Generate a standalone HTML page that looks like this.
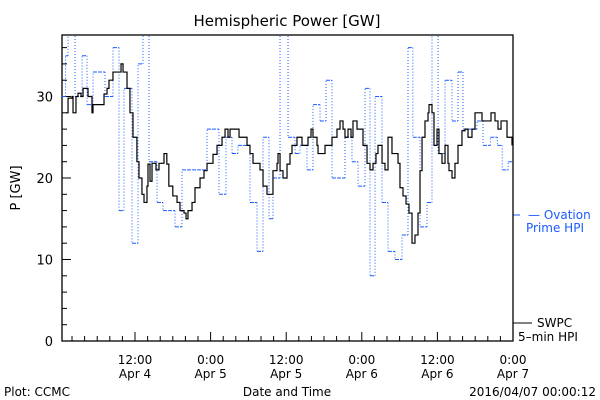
<!DOCTYPE html>
<html><head><meta charset="utf-8"><style>
body{margin:0;background:#fff;}
svg{display:block;font-family:"DejaVu Sans","Liberation Sans",sans-serif;}
</style></head><body>
<svg id="chart" width="600" height="400" viewBox="0 0 600 400" xmlns="http://www.w3.org/2000/svg">
<rect width="600" height="400" fill="#fff"/>
<text x="287" y="26" text-anchor="middle" font-size="15">Hemispheric Power [GW]</text>
<text transform="translate(20,188) rotate(-90)" text-anchor="middle" font-size="13">P [GW]</text>
<text x="287" y="396" text-anchor="middle" font-size="12">Date and Time</text>
<text x="4" y="396" font-size="12">Plot: CCMC</text>
<text x="596" y="396" text-anchor="end" font-size="12">2016/04/07 00:00:12</text>
<g>
<line x1="513" y1="215" x2="520" y2="215" stroke="#1a5cff" stroke-width="1"/>
<text x="528" y="219" font-size="12" fill="#1a5cff">— Ovation</text>
<text x="526" y="232" font-size="12" fill="#1a5cff">Prime HPI</text>
</g>
<g>
<line x1="513" y1="323" x2="532" y2="323" stroke="#000" stroke-width="1"/>
<text x="537" y="327" font-size="12">SWPC</text>
<text x="518" y="341" font-size="12">5–min HPI</text>
</g>
<defs><clipPath id="clip"><rect x="62" y="35" width="451" height="306"/></clipPath></defs>
<g id="axes"></g>
<g id="series" clip-path="url(#clip)"></g>
</svg>
<script>
const yTicks=[0,10,20,30];
const xTickHours=[12,24,36,48,60,72];
const xTickLine1=["12:00","0:00","12:00","0:00","12:00","0:00"];
const xTickLine2=["Apr 4","Apr 5","Apr 5","Apr 6","Apr 6","Apr 7"];
const blueT=[0.41,0.98,1.37,2.48,3.59,4.38,5.33,7.24,8.5,9.46,10.25,11.52,12.48,13.27,14.22,15.49,16.44,18.35,19.46,23.43,25.33,26.44,27.4,28.35,30.25,31.37,32.32,33.27,33.9,35.02,36.29,37.4,38.19,39.3,40.25,41.37,42.32,43.27,45.33,46.44,47.4,48.51,49.3,50.1,51.21,52.16,53.27,54.38,55.33,56.1,57.24,58.35,59.14,60.1,61.21,62.32,63.27,64.06,66.29,67.24,68.41,69.52,70.29,71.24,72];
const blueV=[30,35,40,30,35,29,33,30,36,16,31,12,34,40,22,17,16,14,21,26,18,25,23,24,17,11,25,15,20,40,25,23,24,21,29,27,32,20,25,22,19,31,8,30,17,11,10,13,36,25,14,17,40,23,32,27,33,26,27,24,25,24,21,22,22];
const blackT=[1.05,1.37,2.0,2.16,2.63,2.95,3.43,3.75,4.22,4.54,5.17,5.33,6.76,7.08,7.56,7.87,8.5,9.62,9.78,10.1,10.73,11.2,11.68,12.3,12.63,13.1,13.43,13.9,14.06,14.38,14.7,15.02,15.33,15.81,16.6,17.05,17.37,18.0,18.67,19.14,19.78,20.1,20.41,21.05,21.52,22.32,22.95,23.43,24.38,25.02,25.81,26.29,26.76,27.08,28.19,28.51,29.46,29.78,30.25,30.73,31.84,32.32,32.95,33.43,33.9,34.54,34.7,35.02,35.49,36.13,36.6,36.92,37.71,37.87,38.51,39.46,39.62,39.94,40.25,40.89,41.05,42.16,42.63,43.27,44.06,44.54,45.02,45.33,45.81,46.29,46.6,47.24,47.71,48.19,48.83,49.3,49.78,50.25,50.57,51.21,51.68,52.16,52.79,53.27,53.75,54.06,54.54,55.02,55.49,55.97,56.44,56.92,57.24,57.56,58.03,58.51,58.67,59.14,59.46,59.94,60.25,60.73,61.21,61.68,61.84,62.32,62.79,63.27,63.9,64.38,64.86,65.49,65.97,66.29,67.08,67.56,68.03,68.51,69.14,69.62,70.1,71.05,71.68,71.84];
const blackV=[28,29.8,30,28,30,30.4,30,31,31,30,28,29,29,30.3,31,32,33,33,34,33,31,28,25,22,20,18,17,19,21.7,19.6,21.8,21.8,21,21.8,23,21.7,19,17.8,17,16,15.7,15,16,17,18.8,20,20.9,21.8,22.9,24,25,26,25,26,26,25,25,24,23,21.8,21,19,18,18,20.9,21.8,23,20.9,20,21.7,23,24,25,25,24,25,25,26,25,24,23,24,24,25,26,27,26,25,26,25,27,26,26,24,21.8,21,21.8,23,24,21.8,21,25,23,23,21.8,18.8,17.8,16.8,15.7,12,13,15.7,20.9,25,27,28,29,28,24,26,23,21.8,24,21.8,20.9,20,21.8,24,25.8,26,25,26,28,28,27,27,27,28,27,26,27,25,25,24,23];

const X0=62,X1=513,Y0=341,Y1=35,H0=0.41,H1=72,VMAX=(341-35)/8.15;
const xs=h=>X0+(h-H0)/(H1-H0)*(X1-X0);
const ys=v=>Y0-v/VMAX*(Y0-Y1);
const NS="http://www.w3.org/2000/svg";
function mk(tag,attrs,parent){const e=document.createElementNS(NS,tag);for(const k in attrs)e.setAttribute(k,attrs[k]);parent.appendChild(e);return e;}
const axes=document.getElementById('axes'),series=document.getElementById('series');

const frame=mk('rect',{x:X0,y:Y1,width:X1-X0,height:Y0-Y1,fill:'none',stroke:'#000','stroke-width':1.3},axes);



for(let v=0;v<=36;v+=2){
  const major=v%10===0;
  const t=mk('line',{x1:X0,x2:X0+(major?9:5),y1:ys(v),y2:ys(v),stroke:'#000'},axes);
  
  
}
yTicks.forEach(v=>{
  const t=mk('text',{x:X0-9,y:ys(v)+5,'text-anchor':'end','font-size':13},axes);
  t.textContent=v;
  
  
});
for(let h=2;h<=72;h+=2){
  if(xs(h)<X0)continue;
  const major=h%12===0;
  const t=mk('line',{x1:xs(h),x2:xs(h),y1:Y0,y2:Y0-(major?9:5),stroke:'#000'},axes);
  
  
}
xTickHours.forEach((h,i)=>{
  const t1=mk('text',{x:xs(h),y:364,'text-anchor':'middle','font-size':12},axes);
  t1.textContent=xTickLine1[i];
  
  
  const t2=mk('text',{x:xs(h),y:378,'text-anchor':'middle','font-size':12},axes);
  t2.textContent=xTickLine2[i];
  
  
});

let hd='',vd='';
for(let i=0;i<blueV.length;i++){
  const xa=xs(blueT[i]),xb=xs(blueT[i+1]),y=ys(blueV[i]);
  hd+=`M${xa},${y}H${xb}`;
  if(i+1<blueV.length)vd+=`M${xb},${y}V${ys(blueV[i+1])}`;
}
const bh=mk('path',{d:hd,fill:'none',stroke:'#1a5cff','stroke-width':1,'stroke-dasharray':'4,1'},series);


const bv=mk('path',{d:vd,fill:'none',stroke:'#1a5cff','stroke-width':1,'stroke-dasharray':'1,2'},series);



let sd=`M${xs(blackT[0])},${ys(blackV[0])}`;
for(let i=1;i<blackT.length;i++){sd+=`H${xs(blackT[i])}V${ys(blackV[i])}`;}
const bl=mk('path',{d:sd,fill:'none',stroke:'#000','stroke-width':1.2},series);


</script>
</body></html>
